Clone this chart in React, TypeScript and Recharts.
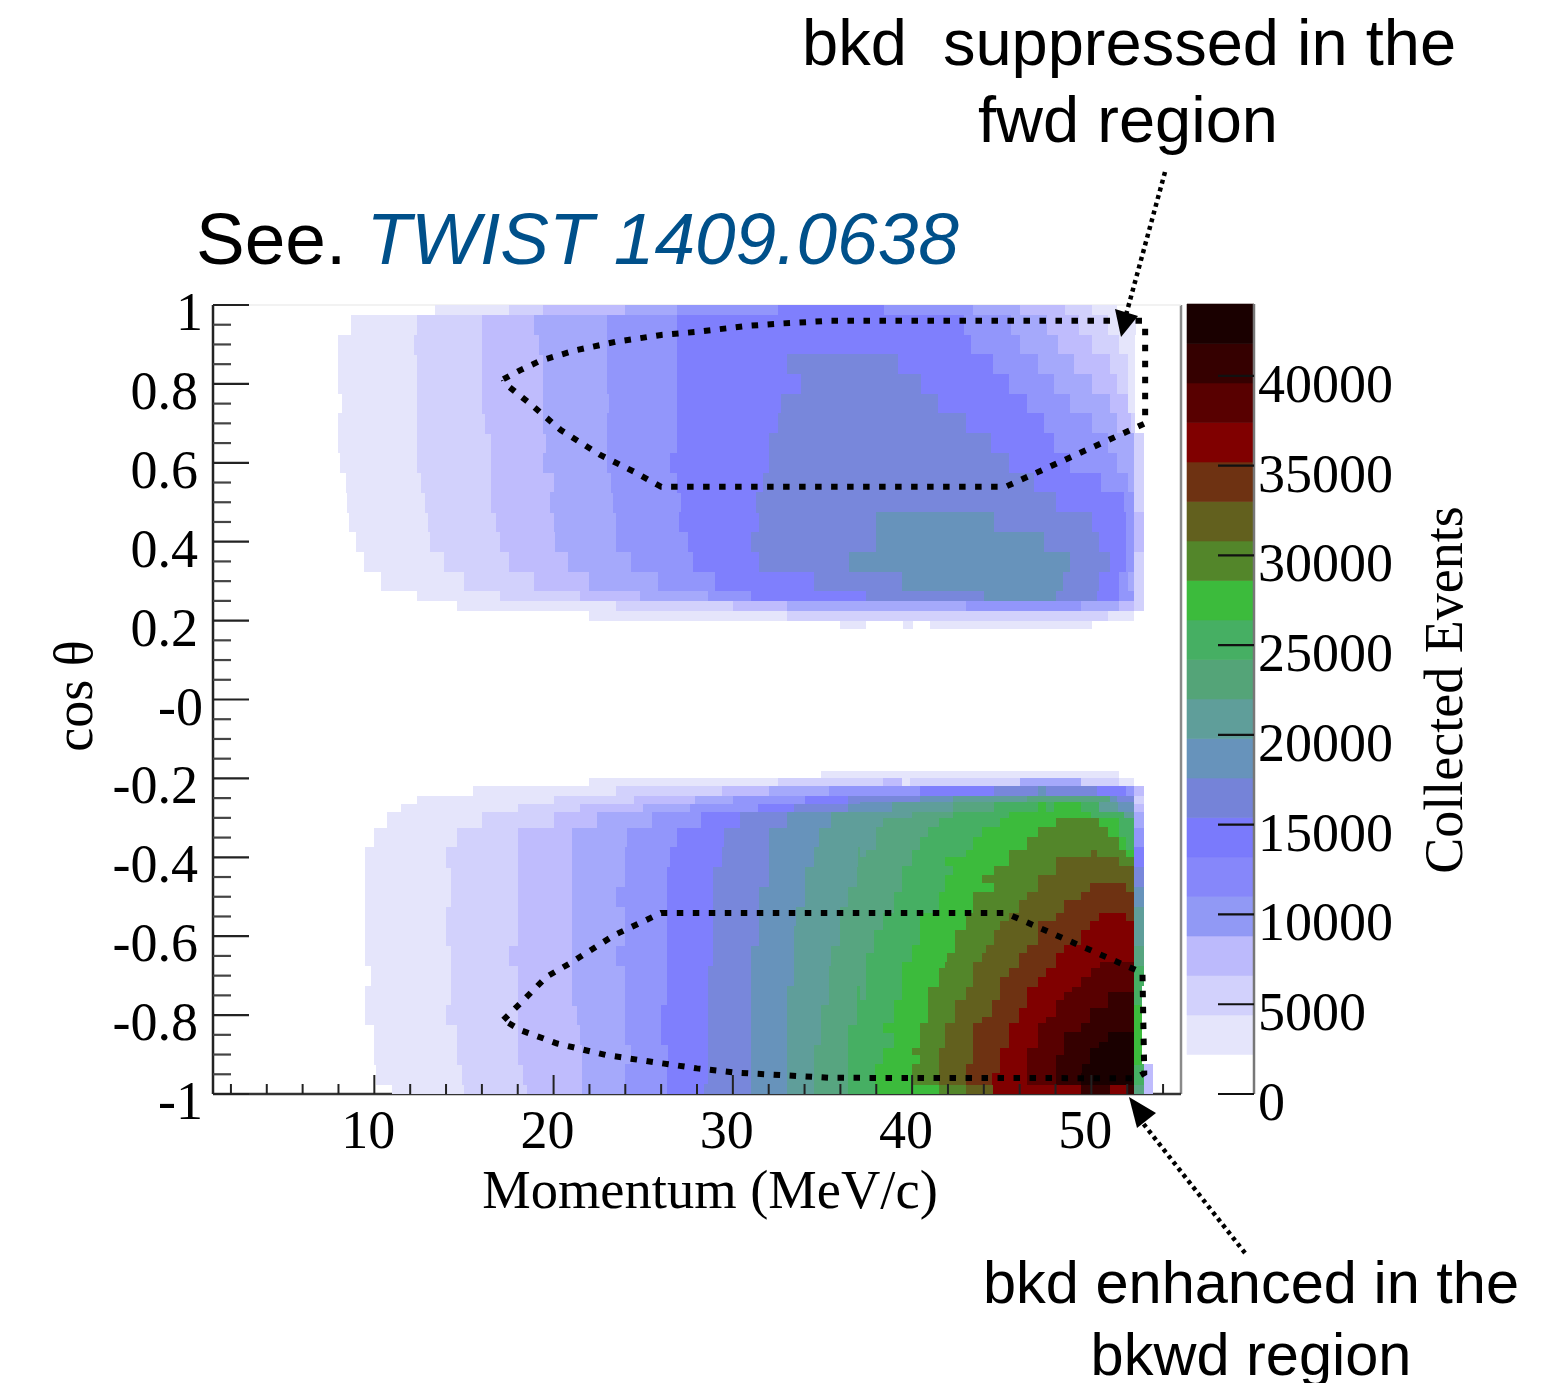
import React from "react";
import { ScatterChart, Scatter, XAxis, YAxis, ReferenceLine, BarChart, Bar } from "recharts";

// ---- colour levels ----
const levelColors = ["#ffffff","#e5e5fb","#d2d1fc","#bfbcfd","#a5a9fb","#9296fb","#7f7ffd","#7887db","#6793bb","#5f9e9a","#57a580","#46af63","#3cbb3c","#53862a","#62601e","#6e3212","#800000","#580000","#350000","#1a0000"];
const barColors = ["#ffffff","#e5e5fb","#d2d1fc","#bcbafc","#9199f5","#8687fa","#7a7afc","#7583d8","#6793bb","#5f9e9a","#54a478","#46af63","#3cbb3c","#53862a","#62601e","#6e3212","#800000","#580000","#350000","#1a0000"];
const levelWidth = 2200;

// ---- heat map rows: [cos top, cos bottom, [momentum start, level, ... , momentum end]] ----
type Row = [number, number, number[]];
const forwardRows: Row[] = [
  [1,.975,[13.4,1,17.5,2,19.4,3,24,4,26.9,5,32.5,6,38.4,5,43.4,4,46,3,48.5,2,50,1,51.4]],
  [.975,.925,[8.7,1,12.4,2,16,3,18.9,4,23,5,26.9,6,42.9,5,45.5,4,47.5,3,49.3,2,50.9,1,52.45]],
  [.925,.875,[8,1,12.2,2,16,3,19.2,4,23,5,26.9,6,43.25,5,46,4,48.1,3,50,2,51.5,1,52.4]],
  [.875,.825,[8,1,12.4,2,16,3,19.4,4,23,5,26.9,6,33,7,39.2,6,44.5,5,47,4,49,3,51,2,52,1,52.4]],
  [.825,.775,[8,1,12.4,2,16,3,19.4,4,23,5,26.9,6,33.8,7,40.5,6,45.4,5,47.9,4,50,3,51.4,2,52,1,52.4]],
  [.775,.725,[8.2,1,12.4,2,16,3,19.4,4,23.1,5,26.9,6,32.7,7,41.4,6,46.4,5,48.8,4,51,3,52,1,52.4]],
  [.725,.675,[8,1,12.4,2,16.2,3,19.4,4,23,5,26.9,6,32.5,7,43,6,47.35,5,50,4,51.4,3,52.2,2,52.4]],
  [.675,.625,[8,1,12.4,2,16.5,3,19.6,4,23,5,26.9,6,32,7,44.4,6,47.9,5,50.9,4,52.35,2,52.9]],
  [.625,.575,[8.1,1,12.4,2,16.5,3,19.4,4,23,5,26.5,6,32,7,45.4,6,48.8,5,51.4,4,52.35,2,52.9]],
  [.575,.525,[8.4,1,12.6,2,16.5,3,20,4,23.2,5,26.9,6,31.7,7,46.8,6,50.5,5,52,4,52.35,2,52.9]],
  [.525,.475,[8.5,1,12.8,2,16.5,3,19.8,4,23.3,5,27.1,6,31.3,7,48,6,51.8,5,52.35,2,52.9]],
  [.475,.425,[8.6,1,13,2,16.8,3,20,4,23.5,5,27,6,31.45,7,38,8,44.55,7,50,6,51.9,5,52.35,3,52.9]],
  [.425,.375,[9,1,13.1,2,17,3,20.1,4,23.5,5,27.5,6,31,7,38,8,47.35,7,50.4,6,51.9,5,52.35,3,52.9]],
  [.375,.325,[9.4,1,13.9,2,17.5,3,20.8,4,24.3,5,27.8,6,31.45,7,36.5,8,48.8,7,51,6,51.9,5,52.35,2,52.9]],
  [.325,.275,[10.35,1,15,2,18.9,3,22,4,25.8,5,29,6,34.5,7,39.45,8,48.4,7,50.4,6,51.5,5,52,4,52.35,2,52.9]],
  [.275,.25,[12.4,1,17,2,21.5,3,24.8,4,28.6,5,31,6,37.4,7,44,8,48,7,50.3,6,51.5,5,52.35,2,52.9]],
  [.25,.225,[14.6,1,23.5,2,30,3,33,4,43,5,49.4,4,51.5,3,52.35,2,52.9]],
  [.225,.2,[22,1,33,2,50.9,1,52.35]],
  [.2,.18,[36,1,37.4,0,39.5,1,40,0,41,1,50]],
];
const backwardRows: Row[] = [
  [-.18,-.2,[34.9,1,51.5]],
  [-.2,-.22,[22,1,32.5,2,38.4,3,39.4,1,39.9,2,46,4,49.4,2,51.5,1,52.35]],
  [-.22,-.244,[15.5,1,23.5,2,29.4,3,32,4,35.35,5,40.45,6,44.55,7,47,8,47.45,7,50.3,6,51.9,5,52.35,3,52.9]],
  [-.244,-.266,[12.4,1,20,2,24.5,3,27.9,4,30,5,34,6,36.4,7,40.45,8,42.3,9,46.4,10,51,8,51.4,7,52.35,2,52.9]],
  [-.266,-.285,[11.5,1,18,2,21.5,3,25,4,27.6,5,31.4,6,33.4,7,36.4,8,39,9,42.3,10,44.55,11,47,12,49.4,11,50.5,9,51.4,7,52.35,3,52.9]],
  [-.285,-.325,[10.7,1,16,2,20,3,22.4,4,25.5,5,28.2,6,30.4,7,33,8,35.45,9,38.2,10,41.4,11,44.9,12,48,13,50.3,12,51.5,11,52.35,4,52.9]],
  [-.325,-.375,[10,1,14.6,2,18,3,21,4,24.1,5,26.9,6,29.5,7,32,8,34.8,9,37.9,10,40.9,11,43.4,12,46.4,13,51.5,12,52.35,5,52.9]],
  [-.375,-.425,[9.5,1,14,2,18,3,21,4,24,5,26.5,6,29.4,7,32,8,34.5,9,37,10,39.9,11,41.85,12,45.5,13,48,14,52.35,6,52.9]],
  [-.425,-.475,[9.5,1,14.25,2,18,3,21,4,24,5,26.3,6,28.9,7,32,8,34,9,36.9,10,39.4,11,41.85,12,43.9,13,47,14,50,15,52.35,7,52.9]],
  [-.475,-.525,[9.5,1,14.25,2,18,3,21,4,23.5,5,26.3,6,28.9,7,31.45,8,34,9,36.4,10,39,11,41.5,12,43.4,13,46,14,48.45,15,52.35,8,52.9]],
  [-.525,-.575,[9.5,1,14,2,18,3,21,4,24,5,26.3,6,28.9,7,31.45,8,33.5,9,36,10,38.4,11,40.45,12,42.4,13,44.9,14,47.5,15,50,16,52.35,9,52.9]],
  [-.575,-.625,[9.5,1,14,2,18,3,21,4,24,5,26.3,6,28.9,7,31.45,8,33.4,9,36,10,37.9,11,40.45,12,42.4,13,44.4,14,47,15,49.4,16,52.35,9,52.9]],
  [-.625,-.675,[9.5,1,14.25,2,17.5,3,21,4,23.5,5,26.3,6,28.9,7,31,8,33.4,9,35.45,10,37.5,11,39.9,12,41.85,13,43.4,14,46,15,48.45,16,50.5,17,52.35,10,52.9]],
  [-.675,-.725,[9.8,1,14.25,2,18,3,21,4,24,5,26.3,6,28.6,7,31,8,33.4,9,35.35,10,37.4,11,39.45,12,41.5,13,43,14,45.4,15,47.45,16,49.4,17,52.35,11,52.9]],
  [-.725,-.775,[9.5,1,14.25,2,18,3,21,4,24,5,26.3,6,28.6,7,31,8,33,9,35.35,10,36.9,11,39,12,41,13,42.4,14,44.9,15,46.4,16,48,17,50.9,18,52.35,11,52.8]],
  [-.775,-.825,[9.5,1,14,2,18,3,21.3,4,24,5,26,6,28.6,7,31,8,33,9,34.9,10,36.9,11,38.4,12,40.45,13,42,14,43.9,15,46,16,47.45,17,50,18,52.35,12,52.8]],
  [-.825,-.875,[10,1,14.6,2,18,3,21.5,4,24,5,26,6,28.6,7,31,8,33,9,34.9,10,36.4,11,38.4,12,40.45,13,41.85,14,43.4,15,45.4,16,47,17,48.45,18,51,19,52.35,12,52.8]],
  [-.875,-.925,[10,1,14.6,2,18,3,21.6,4,24.3,5,26.4,6,28.6,7,31,8,33,9,34.5,10,36.4,11,38.4,12,40,13,41.5,14,43.4,15,44.9,16,46.5,17,48,18,50,19,52.35,12,52.8]],
  [-.925,-.975,[10.1,1,14.9,2,18.3,3,21.6,4,24,5,26.3,6,28.6,7,31,8,33,9,34.5,10,36.4,11,38,12,40,13,41.5,14,43,15,44.55,16,46.4,17,48,18,49.4,19,52.35,11,52.9,3,53.4]],
  [-.975,-1,[11,1,15,2,18.5,3,21.6,4,24,5,26.3,6,28.4,7,31,8,33,9,34.5,10,36.4,11,38,12,41.5,13,43,14,44.5,16,49.4,18,51,16,52,18,52.35,10,52.9,3,53.4]],
];
// finer reading of the hot corner, drawn over the rows above
const hotRows: Row[] = [
  [-.2607,-.2843,[37.12,8,38.9,9,42.3,10,44.55,11,47,12,47.45,11,47.9,12,49.4,11,50.4,9,51.45,8,52.35]],
  [-.2843,-.3012,[37.12,9,40,10,42.3,11,45.4,12,49.95,11,51.8,9,52.35]],
  [-.3012,-.324,[37.12,9,38.4,10,41.5,11,44.9,12,48,13,50.4,12,51.5,11,52.35]],
  [-.324,-.3477,[37.12,9,38,10,40.9,11,43.9,12,47,13,50.9,12,51.5,11,52.35]],
  [-.3477,-.3815,[37.12,9,38,10,40.45,11,43.4,12,46.4,13,51.5,12,51.9,11,52.35]],
  [-.3815,-.3984,[37.12,9,37.4,10,40,11,43,12,45.4,13,50,14,50.3,13,51.9,12,52.35]],
  [-.3984,-.4221,[37.12,10,40,11,41.85,12,45.4,13,48,14,51.5,13,52.35]],
  [-.4221,-.4449,[37.12,10,39.45,11,42.3,12,44.55,13,48,14,52.35]],
  [-.4449,-.4643,[37.12,10,39.45,11,41.85,12,43.9,13,47,14,52.35]],
  [-.4643,-.4871,[37.12,10,39.45,11,41.85,12,44.55,13,47,14,49.95,15,51.9,14,52.35]],
  [-.4871,-.5082,[37.12,10,39,11,41.5,12,43.4,13,46.4,14,49.4,15,52.35]],
  [-.5082,-.542,[37.12,10,39,11,41.5,12,43.4,13,45.95,14,48.45,15,52.35]],
  [-.542,-.5606,[37.12,10,38.4,11,40.45,12,43,13,45.4,14,48,15,50.4,16,51.9,15,52.35]],
  [-.5606,-.5843,[37.12,10,38.4,11,40.45,12,43,13,44.9,14,47,15,49.95,16,52.35]],
  [-.5843,-.6223,[37.12,10,37.9,11,40.45,12,42.4,13,44.55,14,47,15,49.4,16,52.35]],
  [-.6223,-.6434,[37.12,10,37.9,11,40,12,42.4,13,44.1,14,46.4,15,48.45,16,52.35]],
  [-.6434,-.6645,[37.12,10,37.4,11,40,12,41.95,13,43.9,14,45.95,15,48,16,52.35]],
  [-.6645,-.6814,[37.12,10,37.4,11,39.45,12,41.85,13,43.4,14,45.95,15,48,16,50.5,17,52.35]],
  [-.6814,-.7042,[37.12,10,37.4,11,39.45,12,41.5,13,43.4,14,45.4,15,47.45,16,50,17,52.35]],
  [-.7042,-.7279,[37.12,10,37.4,11,39.45,12,41.5,13,43.4,14,44.9,15,47,16,49.4,17,52.35]],
  [-.7279,-.7406,[37.12,10,37.4,11,39.45,12,40.9,13,43,14,44.9,15,46.4,16,48.9,17,52.35]],
  [-.7406,-.7617,[37.12,10,37.4,11,39.45,12,40.9,13,43,14,44.9,15,46.4,16,48.45,17,50.9,18,52.35]],
  [-.7617,-.7828,[37.12,11,39,12,40.9,13,42.4,14,44.45,15,46.4,16,48,17,50.9,18,52.35]],
  [-.7828,-.804,[37.12,11,39,12,40.9,13,42.4,14,44.45,15,45.95,16,48,17,49.95,18,52.35]],
  [-.804,-.8208,[37.12,11,39,12,40.9,13,42.4,14,43.9,15,45.95,16,47.45,17,49.95,18,52.35]],
  [-.8208,-.8437,[37.12,11,38.4,12,40.45,13,41.85,14,43.4,15,45.4,16,47,17,49.4,18,52.35]],
  [-.8437,-.8673,[37.12,11,39,12,40.45,13,41.85,14,43.4,15,45.4,16,47,17,48.45,18,50.9,19,52.35]],
  [-.8673,-.8842,[37.12,11,39,12,40.45,13,41.85,14,43.4,15,45.4,16,47,17,48.45,18,50.4,19,52.35]],
  [-.8842,-.9011,[37.12,11,38.4,12,40,13,41.5,14,43.4,15,44.9,16,46.4,17,48.45,18,49.95,19,52.35]],
  [-.9011,-.9239,[37.12,11,38.4,12,40.45,13,41.5,14,43.4,15,44.9,16,46.4,17,48,18,49.95,19,52.35]],
  [-.9239,-.9476,[37.12,11,37.95,12,40,13,41.5,14,43,15,44.9,16,46.4,17,48,18,49.5,19,52.35]],
  [-.9476,-.9772,[37.12,11,37.95,12,40,13,41.5,14,43,15,44.45,16,46.4,17,48,18,49.4,19,52.35]],
  [-.9772,-1,[37.12,11,38,12,41.5,13,43,14,44.5,16,49.4,18,51,16,52,18,52.35]],
];

// ---- dotted selection outlines ----
const forwardOutline = [
  {x:17.2,y:.812},{x:18.15,y:.835},{x:19.27,y:.859},{x:21.3,y:.886},{x:23.5,y:.907},{x:26,y:.924},{x:28,y:.932},{x:30.8,y:.947},{x:32.66,y:.953},{x:35.45,y:.96},{x:52.9,y:.96},
  {x:53,y:.945},{x:53,y:.70},{x:45.2,y:.539},{x:26,y:.539},{x:24.5,y:.577},{x:22.6,y:.62},{x:20.4,y:.683},{x:18.9,y:.742},{x:17.4,y:.797},{x:17.2,y:.812},
];
const backwardOutline = [
  {x:17.2,y:-.812},{x:18.15,y:-.77},{x:19.6,y:-.703},{x:20.9,y:-.669},{x:23.4,y:-.597},{x:26,y:-.541},{x:45.2,y:-.541},{x:52.85,y:-.693},{x:52.95,y:-.947},
  {x:52.45,y:-.96},{x:35.45,y:-.959},{x:32.66,y:-.952},{x:30.2,y:-.946},{x:28,y:-.935},{x:26,y:-.922},{x:22.9,y:-.901},{x:20.2,y:-.872},{x:18.15,y:-.838},{x:17.2,y:-.812},
];

// ---- axes ----
const xTicks = [2,4,6,8,10,12,14,16,18,20,22,24,26,28,30,32,34,36,38,40,42,44,46,48,50,52,54];
const xLabelled = [10,20,30,40,50];
const yTicks = [-1,-.95,-.9,-.85,-.8,-.75,-.7,-.65,-.6,-.55,-.5,-.45,-.4,-.35,-.3,-.25,-.2,-.15,-.1,-.05,0,.05,.1,.15,.2,.25,.3,.35,.4,.45,.5,.55,.6,.65,.7,.75,.8,.85,.9,.95,1];
const yLabels: Record<string,string> = {"1":"1","0.8":"0.8","0.6":"0.6","0.4":"0.4","0.2":"0.2","0":"-0","-0.2":"-0.2","-0.4":"-0.4","-0.6":"-0.6","-0.8":"-0.8","-1":"-1"};
const barTicks = [0,5000,10000,15000,20000,25000,30000,35000,40000];

// ---- layout ----
const W = 1568, H = 1383;
const LEFT = 213, RIGHT = 1181, TOP = 305, BOTTOM = 1094;
const X_DOMAIN: [number,number] = [1,55];
const Y_DOMAIN: [number,number] = [-1,1];
const pxX = (RIGHT-LEFT)/(X_DOMAIN[1]-X_DOMAIN[0]);
const pxY = (BOTTOM-TOP)/(Y_DOMAIN[1]-Y_DOMAIN[0]);
const serif = "'Liberation Serif', serif";
const sans = "'Liberation Sans', sans-serif";
const SOFT = "blur(0.6px)";

type Cell = {x:number;y:number;w:number;h:number};
const toCells = (rows: Row[]): Cell[][] => {
  const out: Cell[][] = levelColors.map(() => []);
  rows.forEach(([top,bottom,runs]) => {
    for (let i = 0; i + 2 < runs.length; i += 2) {
      const a = runs[i], lv = runs[i+1], b = runs[i+2];
      out[lv].push({x:(a+b)/2,y:(top+bottom)/2,w:b-a,h:top-bottom});
    }
  });
  return out;
};
const baseCells = toCells([...forwardRows, ...backwardRows]);
const hotCells = toCells(hotRows);

const CellShape = (fill: string) => (p: any) => {
  const d = p.payload as Cell;
  const w = d.w*pxX, h = d.h*pxY;
  return <rect x={p.cx-w/2} y={p.cy-h/2} width={w+0.4} height={h+0.4} fill={fill} shapeRendering="crispEdges" />;
};
const NoShape = () => <g />;

const XTick = (p: any) => {
  const v = p.payload.value;
  const major = xLabelled.includes(v);
  return (
    <g>
      <line x1={p.x} x2={p.x} y1={p.y} y2={p.y-(major?19:10)} stroke="#222" strokeWidth={2} />
      {major && <text x={p.x-6} y={p.y+54} textAnchor="middle" fontFamily={serif} fontSize={54} fill="#000">{v}</text>}
    </g>
  );
};
const YTick = (p: any) => {
  const v = p.payload.value;
  const label = yLabels[String(v)];
  const major = label !== undefined;
  return (
    <g>
      <line x1={p.x} x2={p.x+(major?36:18)} y1={p.y} y2={p.y} stroke={major?"#222":"#444"} strokeWidth={2.2} />
      {major && <text x={p.x-(label.length<3?10:15)} y={p.y+25} textAnchor="end" fontFamily={serif} fontSize={54} fill="#000">{label}</text>}
    </g>
  );
};
const BarTick = (p: any) => (
  <g>
    <line x1={p.x-36} x2={p.x} y1={p.y} y2={p.y} stroke="#111" strokeWidth={2.2} />
    <text x={p.x+4} y={p.y+26} fontFamily={serif} fontSize={54} fill="#000">{p.payload.value}</text>
  </g>
);

const barRow: Record<string,any>[] = [Object.fromEntries([["name","z"],...barColors.map((_,i)=>[`L${i}`,levelWidth])])];
const dotted = {stroke:"#000",strokeWidth:6,strokeDasharray:"6.5 9.5"};

export default function App() {
  return (
    <div style={{position:"absolute",left:0,top:0,width:W,height:H,overflow:"hidden",background:"#fff"}}>
      <div style={{position:"absolute",left:0,top:0,filter:SOFT}}>
        <ScatterChart width={W} height={H} margin={{left:LEFT-60,right:W-RIGHT,top:TOP,bottom:H-BOTTOM-30}}>
          <XAxis type="number" dataKey="x" domain={X_DOMAIN} ticks={xTicks} height={30} tick={XTick} tickLine={false} tickSize={0} tickMargin={0} interval={0} axisLine={{stroke:"#333",strokeWidth:2.5}} allowDataOverflow />
          <YAxis type="number" dataKey="y" domain={Y_DOMAIN} ticks={yTicks} width={60} tick={YTick} tickLine={false} tickSize={0} tickMargin={0} interval={0} axisLine={{stroke:"#222",strokeWidth:2.5}} allowDataOverflow />
          {baseCells.map((cells,i) => i===0 ? null : (
            <Scatter key={`b${i}`} data={cells} shape={CellShape(levelColors[i])} isAnimationActive={false} />
          ))}
          {hotCells.map((cells,i) => i===0 || cells.length===0 ? null : (
            <Scatter key={`h${i}`} data={cells} shape={CellShape(levelColors[i])} isAnimationActive={false} />
          ))}
          <ReferenceLine x={55} stroke="#8a8a8a" strokeWidth={2.5} />
          <ReferenceLine y={1} stroke="#eeeeee" strokeWidth={1.5} />
          <Scatter data={forwardOutline} shape={NoShape} line={dotted} isAnimationActive={false} />
          <Scatter data={backwardOutline} shape={NoShape} line={dotted} isAnimationActive={false} />
        </ScatterChart>
      </div>
      <div style={{position:"absolute",left:0,top:0,filter:SOFT}}>
        <BarChart width={W} height={H} data={barRow} barCategoryGap={0} margin={{left:1187,right:W-1254-110,top:304,bottom:H-1094}}>
          <XAxis dataKey="name" hide />
          <YAxis orientation="right" type="number" domain={[0,levelWidth*barColors.length]} ticks={barTicks} width={110} tick={BarTick} tickLine={false} tickSize={0} tickMargin={0} interval={0} axisLine={{stroke:"#777",strokeWidth:2.5}} />
          {barColors.map((c,i) => <Bar key={i} dataKey={`L${i}`} stackId="z" fill={c} stroke={c} strokeWidth={0.6} isAnimationActive={false} />)}
        </BarChart>
      </div>
      <svg width={W} height={H} style={{position:"absolute",left:0,top:0}}>
        <text x={196} y={264} fontFamily={sans} fontSize={73} fill="#000">See. <tspan fontStyle="italic" fill="#00508a">TWIST 1409.0638</tspan></text>
        <text x={802} y={65} fontFamily={sans} fontSize={65} fill="#000" style={{whiteSpace:"pre"}}>{"bkd  suppressed in the"}</text>
        <text x={1128} y={142} textAnchor="middle" fontFamily={sans} fontSize={65} fill="#000">fwd region</text>
        <text x={1251} y={1303} textAnchor="middle" fontFamily={sans} fontSize={59.5} fill="#000">bkd enhanced in the</text>
        <text x={1251} y={1375} textAnchor="middle" fontFamily={sans} fontSize={59.5} fill="#000">bkwd region</text>
        <g style={{filter:SOFT}}>
          <text x={710} y={1208} textAnchor="middle" fontFamily={serif} fontSize={54.5} fill="#000">Momentum (MeV/c)</text>
          <text transform="translate(92,696) rotate(-90)" textAnchor="middle" fontFamily={serif} fontSize={54} fill="#000">cos θ</text>
          <text transform="translate(1462,690) rotate(-90)" textAnchor="middle" fontFamily={serif} fontSize={54} fill="#000">Collected Events</text>
        </g>
        <line x1={1165} y1={172} x2={1126} y2={315} stroke="#000" strokeWidth={4.5} strokeDasharray="4 4" />
        <polygon points="1115,309 1138,316 1121,337" fill="#000" />
        <line x1={1245} y1={1253} x2={1142} y2={1122} stroke="#000" strokeWidth={4.5} strokeDasharray="4 4" />
        <polygon points="1129,1097 1156,1113 1137,1128" fill="#000" />
      </svg>
    </div>
  );
}
